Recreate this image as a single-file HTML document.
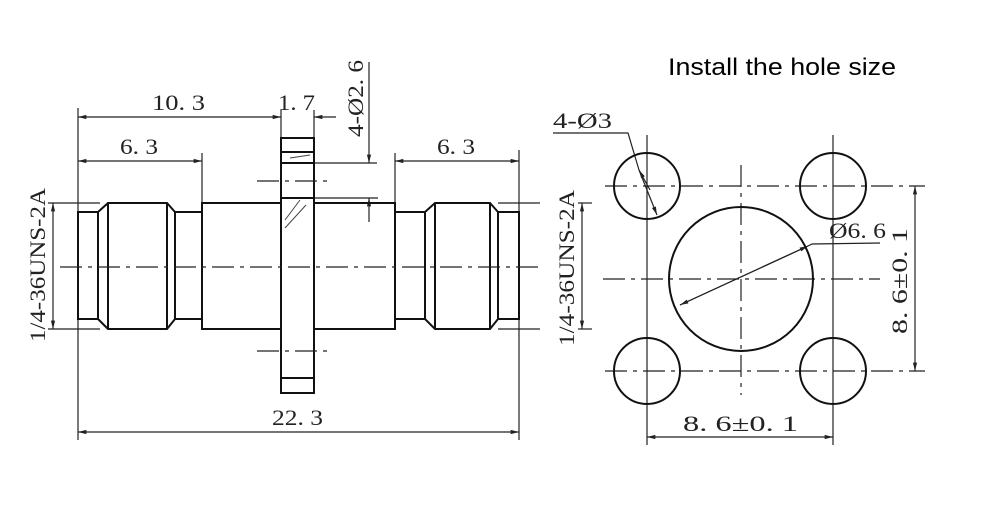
<!DOCTYPE html>
<html><head><meta charset="utf-8"><style>
html,body{margin:0;padding:0;background:#fff;width:1000px;height:519px;overflow:hidden}
svg text{font-family:"Liberation Serif",serif;font-size:22px;fill:#222}
</style></head><body>
<svg width="1000" height="519" viewBox="0 0 1000 519" xmlns="http://www.w3.org/2000/svg">
<defs>
<marker id="a" viewBox="0 0 10 6" refX="10" refY="3" markerWidth="10" markerHeight="5" orient="auto-start-reverse" markerUnits="userSpaceOnUse"><path d="M0,0.5 L10,3 L0,5.5z" fill="#222"/></marker>
</defs>
<g stroke="#222" fill="none" stroke-width="1.2">
<line x1="78" y1="108" x2="78" y2="440"/>
<line x1="519" y1="150" x2="519" y2="440"/>
<line x1="202" y1="153" x2="202" y2="203"/>
<line x1="395" y1="153" x2="395" y2="203"/>
<line x1="281" y1="110" x2="281" y2="138"/>
<line x1="314" y1="110" x2="314" y2="138"/>
<line x1="78" y1="117" x2="281" y2="117" marker-start="url(#a)" marker-end="url(#a)"/>
<line x1="314" y1="117" x2="336" y2="117" marker-start="url(#a)"/>
<line x1="78" y1="161" x2="202" y2="161" marker-start="url(#a)" marker-end="url(#a)"/>
<line x1="395" y1="161" x2="519" y2="161" marker-start="url(#a)" marker-end="url(#a)"/>
<line x1="78" y1="432" x2="519" y2="432" marker-start="url(#a)" marker-end="url(#a)"/>
<line x1="369" y1="62" x2="369" y2="163" marker-end="url(#a)"/>
<line x1="369" y1="222" x2="369" y2="198" marker-end="url(#a)"/>
<line x1="314" y1="163" x2="377" y2="163"/>
<line x1="314" y1="198" x2="378" y2="198"/>
<line x1="48" y1="203" x2="100" y2="203"/>
<line x1="48" y1="329" x2="100" y2="329"/>
<line x1="53" y1="203" x2="53" y2="329" marker-start="url(#a)" marker-end="url(#a)"/>
<line x1="498" y1="203" x2="540" y2="203"/>
<line x1="498" y1="329" x2="540" y2="329"/>
<line x1="578" y1="203" x2="592" y2="203"/>
<line x1="578" y1="329" x2="592" y2="329"/>
<line x1="582" y1="203" x2="582" y2="329" marker-start="url(#a)" marker-end="url(#a)"/>
</g>
<g stroke="#111" fill="none" stroke-width="2">
<rect x="202" y="203" width="193" height="126"/>
<rect x="281" y="138" width="33" height="255" fill="#fff"/>
<line x1="281" y1="152" x2="314" y2="152"/>
<line x1="281" y1="163" x2="314" y2="163"/>
<line x1="281" y1="198" x2="314" y2="198"/>
<line x1="281" y1="378" x2="314" y2="378"/>
<rect x="78" y="212" width="20" height="107"/>
<path d="M98,212 L108,203 L167,203 L175,212 L202,212 M98,319 L108,329 L167,329 L175,319 L202,319 M108,203 V329 M167,203 V329 M98,212 V319 M175,212 V319"/>
<rect x="498" y="212" width="21" height="107"/>
<path d="M395,212 L425,212 L435,203 L490,203 L498,212 M395,319 L425,319 L435,329 L490,329 L498,319 M435,203 V329 M490,203 V329 M425,212 V319"/>
</g>
<g stroke="#444" stroke-width="1" fill="none">
<path d="M285,220 L300,200 M285,228 L306,205 M290,158 L310,155"/>
</g>
<g stroke="#222" stroke-width="1.2" stroke-dasharray="22,6,4,6" fill="none">
<line x1="60" y1="267" x2="540" y2="267"/>
<line x1="257" y1="181" x2="332" y2="181"/>
<line x1="257" y1="351" x2="332" y2="351"/>
</g>
<text x="152" y="110" textLength="53" lengthAdjust="spacingAndGlyphs">10. 3</text>
<text x="278" y="110" textLength="37" lengthAdjust="spacingAndGlyphs">1. 7</text>
<text x="120" y="154" textLength="38" lengthAdjust="spacingAndGlyphs">6. 3</text>
<text x="437" y="154" textLength="38" lengthAdjust="spacingAndGlyphs">6. 3</text>
<text x="272" y="425" textLength="51" lengthAdjust="spacingAndGlyphs">22. 3</text>
<text transform="translate(363,137) rotate(-90)" textLength="77" lengthAdjust="spacingAndGlyphs">4-Ø2. 6</text>
<text transform="translate(45,342) rotate(-90)" textLength="154" lengthAdjust="spacingAndGlyphs">1/4-36UNS-2A</text>
<text transform="translate(574,346) rotate(-90)" textLength="156" lengthAdjust="spacingAndGlyphs">1/4-36UNS-2A</text>

<g stroke="#222" stroke-width="1.2" stroke-dasharray="22,6,4,6" fill="none">
<line x1="605" y1="186" x2="925" y2="186"/>
<line x1="603" y1="279" x2="880" y2="279"/>
<line x1="605" y1="371" x2="925" y2="371"/>
<line x1="741" y1="165" x2="741" y2="395"/>
</g>
<g stroke="#222" stroke-width="1.2" fill="none">
<line x1="647" y1="135" x2="647" y2="445"/>
<line x1="833" y1="135" x2="833" y2="445"/>
<line x1="647" y1="437" x2="833" y2="437" marker-start="url(#a)" marker-end="url(#a)"/>
<line x1="915" y1="186" x2="915" y2="371" marker-start="url(#a)" marker-end="url(#a)"/>
<polyline points="553,133 628,133 639,170"/>
<line x1="639" y1="170" x2="657" y2="215" marker-end="url(#a)"/>
<line x1="650" y1="190" x2="639" y2="170" marker-end="url(#a)"/>
<line x1="808" y1="246" x2="680" y2="305" marker-end="url(#a)"/>
<line x1="680" y1="305" x2="808" y2="246" marker-end="url(#a)"/>
<polyline points="808,246 812,244 880,243"/>
</g>
<g stroke="#111" stroke-width="2" fill="none">
<circle cx="647" cy="186" r="33"/>
<circle cx="833" cy="186" r="33"/>
<circle cx="647" cy="371" r="33"/>
<circle cx="833" cy="371" r="33"/>
<circle cx="741" cy="279" r="72"/>
</g>
<text x="553" y="128" textLength="59" lengthAdjust="spacingAndGlyphs">4-Ø3</text>
<text x="829" y="238" textLength="57" lengthAdjust="spacingAndGlyphs">Ø6. 6</text>
<text x="683" y="431" textLength="115" lengthAdjust="spacingAndGlyphs">8. 6±0. 1</text>
<text transform="translate(907,334) rotate(-90)" textLength="106" lengthAdjust="spacingAndGlyphs">8. 6±0. 1</text>
<text x="668" y="75" textLength="228" lengthAdjust="spacingAndGlyphs" style="font-family:'Liberation Sans',sans-serif;font-size:24px;fill:#000">Install the hole size</text>
</svg>
</body></html>
